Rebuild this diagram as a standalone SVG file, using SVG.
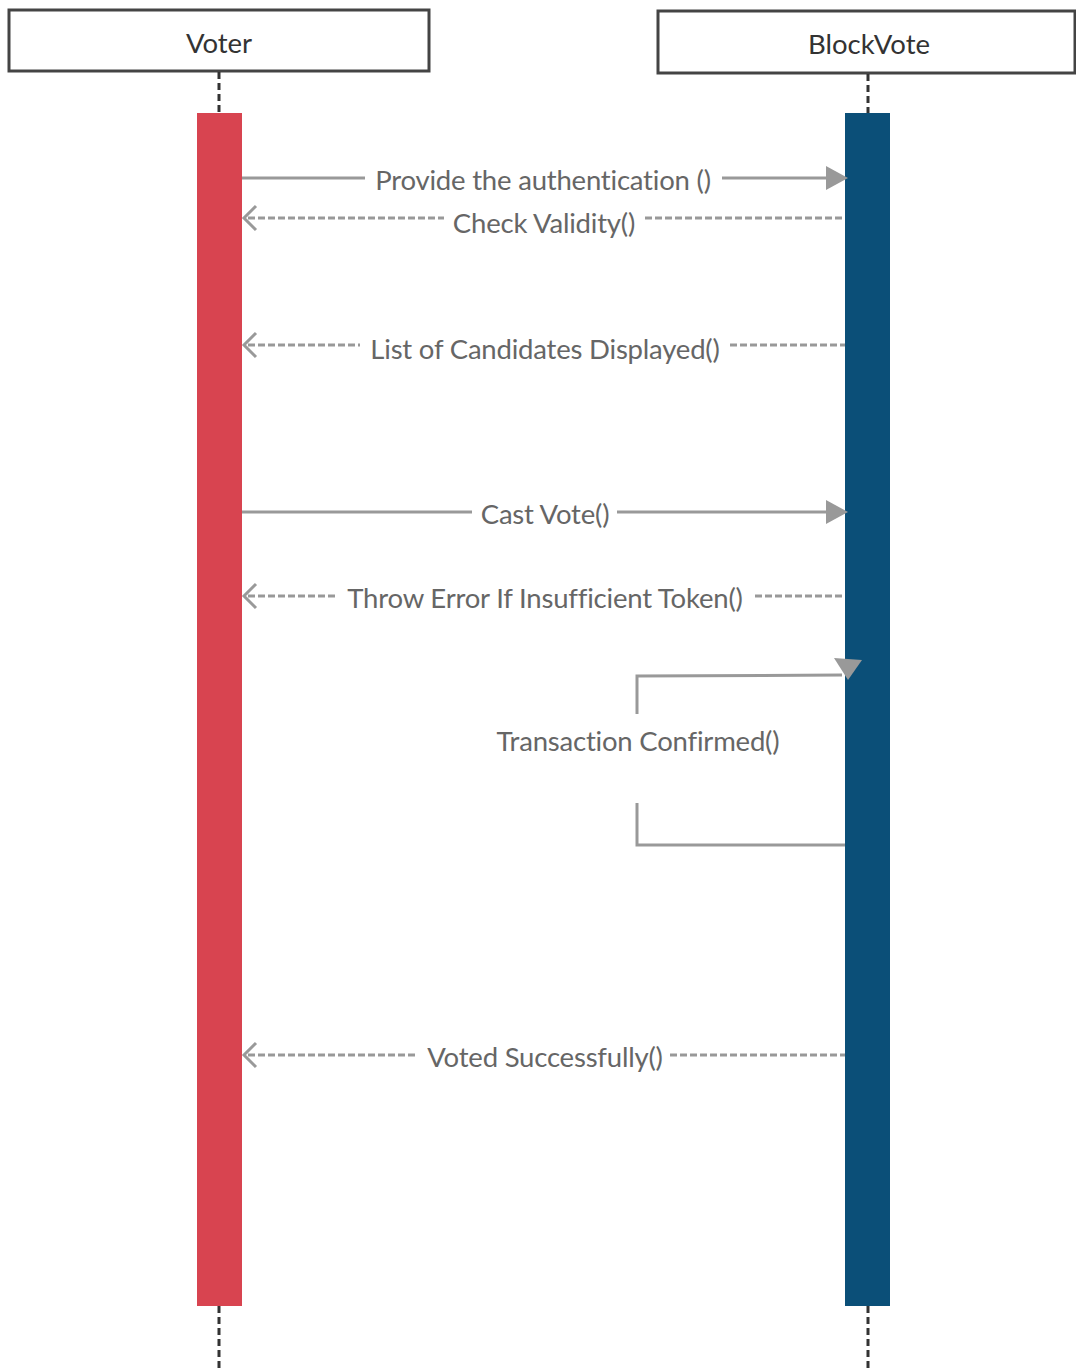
<svg xmlns="http://www.w3.org/2000/svg" width="1076" height="1371" viewBox="0 0 1076 1371">
<defs>
<style>
.head{fill:#fff;stroke:#444;stroke-width:3}
.htxt{font-family:Lato,"Liberation Sans",sans-serif;font-size:27.5px;fill:#333;text-anchor:middle}
.life{stroke:#333;stroke-width:3;stroke-dasharray:7,4}
.msg{stroke:#999;stroke-width:3;fill:none}
.dash{stroke-dasharray:7,3}
.lbl{font-family:Lato,"Liberation Sans",sans-serif;font-size:27.5px;fill:#666;text-anchor:middle;letter-spacing:-0.2px}
.tri{fill:#999}
</style>
</defs>
<rect width="1076" height="1371" fill="#fff"/>
<g id="voter">
<rect class="head" x="9" y="10" width="420" height="61"/>
<text class="htxt" x="219" y="53">Voter</text>
<line class="life" x1="219" y1="72" x2="219" y2="113"/>
<line class="life" x1="219" y1="1306" x2="219" y2="1371"/>
<rect x="197" y="113" width="45" height="1193" fill="#d84450"/>
</g>
<g id="blockvote">
<rect class="head" x="658" y="11" width="417" height="62"/>
<text class="htxt" x="869" y="54">BlockVote</text>
<line class="life" x1="868" y1="74" x2="868" y2="113"/>
<line class="life" x1="868" y1="1306" x2="868" y2="1371"/>
<rect x="845" y="113" width="45" height="1193" fill="#0b4f78"/>
</g>
<g id="connectors">
<line class="msg" x1="242" y1="178" x2="365" y2="178"/>
<line class="msg" x1="722" y1="178" x2="828" y2="178"/>
<polygon class="tri" points="826,166 848,178 826,190"/>
<text class="lbl" x="543" y="190">Provide the authentication ()</text>
<line class="msg dash" x1="248" y1="218" x2="444" y2="218"/>
<line class="msg dash" x1="645" y1="218" x2="845" y2="218"/>
<polyline class="msg" points="256,206 244,218 256,230"/>
<text class="lbl" x="544" y="233">Check Validity()</text>
<line class="msg dash" x1="248" y1="345" x2="360" y2="345"/>
<line class="msg dash" x1="730" y1="345" x2="845" y2="345"/>
<polyline class="msg" points="256,333 244,345 256,357"/>
<text class="lbl" x="545" y="359">List of Candidates Displayed()</text>
<line class="msg" x1="242" y1="512" x2="472" y2="512"/>
<line class="msg" x1="617" y1="512" x2="828" y2="512"/>
<polygon class="tri" points="826,500 848,512 826,524"/>
<text class="lbl" x="545" y="524">Cast Vote()</text>
<line class="msg dash" x1="248" y1="596" x2="335" y2="596"/>
<line class="msg dash" x1="755" y1="596" x2="845" y2="596"/>
<polyline class="msg" points="256,584 244,596 256,608"/>
<text class="lbl" x="545" y="608">Throw Error If Insufficient Token()</text>
<polyline class="msg" points="845,845 637,845 637,803"/>
<polyline class="msg" points="637,714 637,676 842,675"/>
<polygon class="tri" points="834,658 862,660 848,680"/>
<text class="lbl" x="638" y="751">Transaction Confirmed()</text>
<line class="msg dash" x1="248" y1="1055" x2="418" y2="1055"/>
<line class="msg dash" x1="670" y1="1055" x2="845" y2="1055"/>
<polyline class="msg" points="256,1043 244,1055 256,1067"/>
<text class="lbl" x="545" y="1067">Voted Successfully()</text>
</g>
</svg>
